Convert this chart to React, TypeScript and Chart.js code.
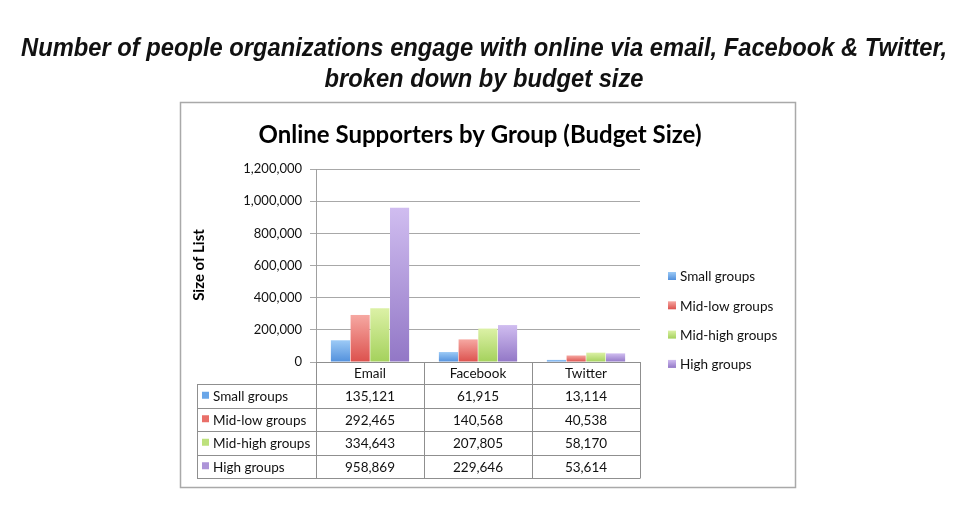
import React, { useEffect, useRef } from "react";
import { Chart, registerables } from "chart.js";

Chart.register(...registerables);

const pageTitleLines = [
  "Number of people organizations engage with online via email, Facebook & Twitter,",
  "broken down by budget size",
];
const chartTitle = "Online Supporters by Group (Budget Size)";
const yAxisTitle = "Size of List";
const categories = ["Email", "Facebook", "Twitter"];
const seriesNames = ["Small groups", "Mid-low groups", "Mid-high groups", "High groups"];
const smallGroups = [135121, 61915, 13114];
const midLowGroups = [292465, 140568, 40538];
const midHighGroups = [334643, 207805, 58170];
const highGroups = [958869, 229646, 53614];
const yMin = 0;
const yMax = 1200000;
const yStep = 200000;

const seriesValues = [smallGroups, midLowGroups, midHighGroups, highGroups];
const colorTop = ["#9ccaf6", "#f6a8a2", "#dcf1a6", "#d0bdf0"];
const colorBottom = ["#5290dc", "#dc514d", "#a4d15c", "#9277c6"];
const colorMid = ["#6aa6e8", "#e96f69", "#bde17c", "#ad94d8"];

const FONT = "Lato, 'Open Sans', sans-serif";
const fmt = (v: number) => v.toLocaleString("en-US");

const decorPlugin = {
  id: "decor",
  beforeDraw(chart: any) {
    const ctx = chart.ctx;
    ctx.save();
    ctx.fillStyle = "#ffffff";
    ctx.fillRect(0, 0, chart.width, chart.height);
    ctx.strokeStyle = "#a9a9a9";
    ctx.lineWidth = 1.5;
    ctx.strokeRect(180.5, 102.5, 615, 385);
    ctx.restore();
  },
  afterDraw(chart: any) {
    const ctx = chart.ctx;
    const xs = chart.scales.x;
    const area = chart.chartArea;
    ctx.save();

    // page title (condensed look via horizontal scaling)
    ctx.fillStyle = "#111";
    ctx.textAlign = "center";
    ctx.textBaseline = "middle";
    ctx.font = "italic bold 25px 'Liberation Sans Narrow', 'Liberation Sans', Arial, sans-serif";
    const w0 = ctx.measureText(pageTitleLines[0]).width;
    const sx = Math.min(1, 926 / w0);
    ctx.save();
    ctx.translate(484, 0);
    ctx.scale(sx, 1);
    ctx.fillText(pageTitleLines[0], 0, 49);
    ctx.fillText(pageTitleLines[1], 0, 80);
    ctx.restore();

    // chart title
    ctx.font = "bold 24px " + FONT;
    ctx.fillStyle = "#000";
    ctx.fillText(chartTitle, 480, 135);

    // y axis title
    ctx.save();
    ctx.translate(199, 265);
    ctx.rotate(-Math.PI / 2);
    ctx.font = "bold 15px " + FONT;
    ctx.fillText(yAxisTitle, 0, 0);
    ctx.restore();

    // data table
    const step = xs.getPixelForValue(1) - xs.getPixelForValue(0);
    const bounds: number[] = [];
    for (let i = 0; i < categories.length; i++) bounds.push(xs.getPixelForValue(i) - step / 2);
    bounds.push(xs.getPixelForValue(categories.length - 1) + step / 2);
    const tableLeft = area.left - 119;
    const headerTop = area.bottom;
    const headerBottom = area.bottom + 22;
    const rowH = 23.5;
    const tableBottom = headerBottom + rowH * seriesNames.length;

    ctx.strokeStyle = "#8f8f8f";
    ctx.lineWidth = 1;
    ctx.beginPath();
    ctx.moveTo(area.left, Math.round(headerTop) + 0.5);
    ctx.lineTo(bounds[bounds.length - 1], Math.round(headerTop) + 0.5);
    for (let r = 0; r <= seriesNames.length; r++) {
      const y = Math.round(headerBottom + r * rowH) + 0.5;
      ctx.moveTo(tableLeft, y);
      ctx.lineTo(bounds[bounds.length - 1], y);
    }
    for (let i = 0; i < bounds.length; i++) {
      const x = Math.round(bounds[i]) + 0.5;
      ctx.moveTo(x, headerTop);
      ctx.lineTo(x, Math.round(tableBottom) + 0.5);
    }
    ctx.moveTo(tableLeft + 0.5, Math.round(headerBottom) + 0.5);
    ctx.lineTo(tableLeft + 0.5, Math.round(tableBottom) + 0.5);
    ctx.stroke();

    ctx.font = "13.5px " + FONT;
    for (let r = 0; r < seriesNames.length; r++) {
      const cy = headerBottom + r * rowH + rowH / 2 + 1;
      ctx.fillStyle = colorMid[r];
      ctx.fillRect(tableLeft + 5, cy - 5, 7, 7);
      ctx.fillStyle = "#111";
      ctx.textAlign = "left";
      ctx.fillText(seriesNames[r], tableLeft + 16, cy);
      ctx.textAlign = "center";
      for (let c = 0; c < categories.length; c++) {
        ctx.fillText(fmt(seriesValues[r][c]), (bounds[c] + bounds[c + 1]) / 2, cy);
      }
    }

    // legend
    const legendX = 668;
    const legendY0 = 276;
    const legendGap = 29.3;
    ctx.font = "13.5px " + FONT;
    for (let r = 0; r < seriesNames.length; r++) {
      const cy = legendY0 + r * legendGap;
      const g = ctx.createLinearGradient(0, cy - 4, 0, cy + 4);
      g.addColorStop(0, colorTop[r]);
      g.addColorStop(1, colorBottom[r]);
      ctx.fillStyle = g;
      ctx.fillRect(legendX, cy - 4, 8, 8);
      ctx.fillStyle = "#111";
      ctx.textAlign = "left";
      ctx.fillText(seriesNames[r], legendX + 12, cy + 1);
    }
    ctx.restore();
  },
};

export default function App() {
  const ref = useRef<HTMLCanvasElement | null>(null);
  useEffect(() => {
    if (!ref.current) return;
    const chart = new Chart(ref.current, {
      type: "bar",
      data: {
        labels: categories,
        datasets: seriesNames.map((name, i) => ({
          label: name,
          data: seriesValues[i],
          borderWidth: 0,
          categoryPercentage: 0.73,
          barPercentage: 0.97,
          backgroundColor: (c: any) => {
            const ch = c.chart;
            if (!ch.chartArea || c.type !== "data") return colorMid[i];
            const ys = ch.scales.y;
            const top = ys.getPixelForValue(c.raw as number);
            const bottom = ys.getPixelForValue(0);
            if (!isFinite(top) || bottom - top < 1) return colorMid[i];
            const g = ch.ctx.createLinearGradient(0, top, 0, bottom);
            g.addColorStop(0, colorTop[i]);
            g.addColorStop(1, colorBottom[i]);
            return g;
          },
        })),
      },
      options: {
        animation: false,
        responsive: false,
        layout: { padding: { left: 216, right: 328, top: 169, bottom: 146 } },
        plugins: {
          legend: { display: false },
          title: { display: false },
          tooltip: { enabled: false },
        },
        scales: {
          x: {
            grid: { display: false, drawTicks: false },
            border: { display: false },
            ticks: { font: { family: FONT, size: 13.5 }, color: "#111", padding: 4 },
            afterFit: (s: any) => {
              s.height = 22;
            },
          },
          y: {
            min: yMin,
            max: yMax,
            grid: { color: "#a8a8a8", lineWidth: 1, tickLength: 6, drawTicks: true },
            border: { display: true, color: "#a0a0a0", width: 1 },
            ticks: {
              stepSize: yStep,
              font: { family: FONT, size: 13 },
              color: "#111",
              padding: 8,
              callback: (v: any) => fmt(Number(v)),
            },
            afterFit: (s: any) => {
              s.width = 100;
            },
          },
        },
      },
      plugins: [decorPlugin],
    });
    return () => chart.destroy();
  }, []);
  return (
    <div style={{ position: "fixed", left: 0, top: 0, width: 968, height: 530 }}>
      <canvas ref={ref} width={968} height={530} style={{ display: "block", width: 968, height: 530 }} />
    </div>
  );
}
